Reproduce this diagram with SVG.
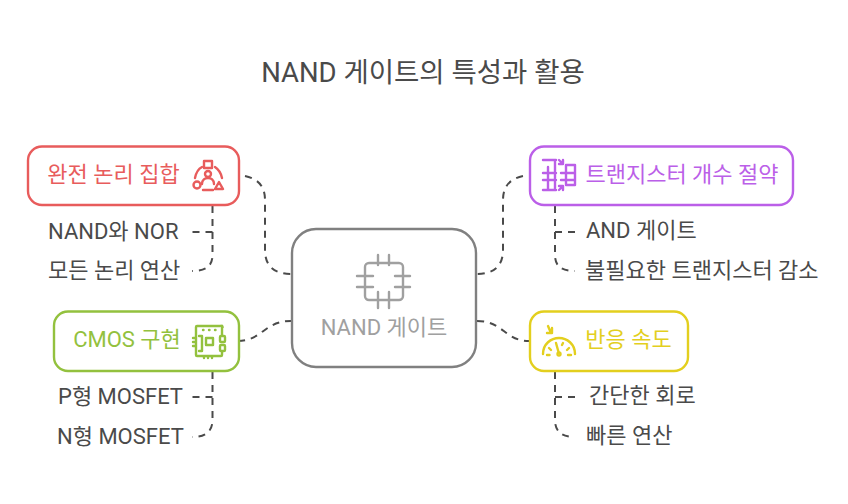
<svg xmlns="http://www.w3.org/2000/svg" width="848" height="504" viewBox="0 0 848 504">
<style>
text{font-family:"Roboto","Noto Sans CJK KR",sans-serif;font-size:22px;fill:#4a4a4a}
.box{fill:#fff;stroke-width:2.400}
.c{fill:none;stroke:#4a4a4a;stroke-width:2;stroke-dasharray:7 6}
.i{fill:none;stroke-width:2.400;stroke-linecap:round;stroke-linejoin:round}
</style>
<rect width="848" height="504" fill="#fff"/>
<text x="423" y="82" text-anchor="middle" style="font-size:27.500px" id="title">NAND 게이트의 특성과 활용</text>
<g id="connectors">
<path class="c" d="M245 176C258 179 265 186 265 200V250C265 266 274 274 291 274"/>
<path class="c" d="M212.500 206V255C212.500 266 206 271 192 271"/>
<path class="c" d="M212.500 232H192"/>
<path class="c" d="M238 341C262 341 264 321 291 321"/>
<path class="c" d="M212.500 372V420C212.500 431 206 437 192 437"/>
<path class="c" d="M212.500 397H192"/>
<path class="c" d="M523 176C510 179 503 186 503 200V250C503 266 494 274 477 274"/>
<path class="c" d="M555 206V255C555 266 561 271 575 271"/>
<path class="c" d="M555 232H575"/>
<path class="c" d="M477 321C503 321 505 341 529 341"/>
<path class="c" d="M555 372V420C555 431 561 437 575 437"/>
<path class="c" d="M555 397H575"/>
</g>
<g id="center">
<rect class="box" x="292" y="229" width="184" height="138" rx="24" stroke="#808080"/>
<g class="i" stroke="#a0a0a0" stroke-linecap="butt">
<rect x="365" y="263" width="38" height="37" rx="4"/>
<path d="M378 255V265M389 255V265M378 292V308M389 292V308M357 276H373M357 287H373M395 276H410M395 287H410"/>
</g>
<text x="384" y="335" text-anchor="middle" style="fill:#a0a0a0">NAND 게이트</text>
</g>
<g id="red">
<rect class="box" x="28" y="146.500" width="211" height="58.500" rx="14" stroke="#e85c5c"/>
<text x="113.500" y="182" text-anchor="middle" style="fill:#e85c5c">완전 논리 집합</text>
<g class="i" stroke="#e85c5c">
<rect x="204" y="161" width="8" height="7"/><circle cx="208" cy="174" r="3"/><path d="M202 184C202 176 214 176 214 184"/>
<circle cx="197" cy="185" r="3.500"/><path d="M215 189L219 182L223 189Z"/>
<path d="M195 178C196 173 198 169 202 167M215 167C218 169 221 173 222 178M203 190H213"/>
</g>
</g>
<text x="48" y="239">NAND와 NOR</text>
<text x="48" y="278">모든 논리 연산</text>
<g id="green">
<rect class="box" x="54" y="311.500" width="185" height="59.500" rx="14" stroke="#93c13e"/>
<text x="127" y="347" text-anchor="middle" style="fill:#93c13e">CMOS 구현</text>
<g class="i" stroke="#93c13e">
<path d="M222 335V328A1 1 0 0 0 221 326H197A1 1 0 0 0 196 327V355A1 1 0 0 0 197 356H221A1 1 0 0 0 222 355V352"/>
<rect x="220" y="336" width="5" height="6" rx="1"/><rect x="220" y="345" width="5" height="6" rx="1"/>
<path d="M199 336H202V351H199M206 338H213L213 345H206Z"/>
<path d="M193 338H195M193 342H195M193 346H195M204 357V358M208 357V358M212 357V358M203 330H203.500M209 330H209.500M215 330H215.500"/>
</g>
</g>
<text x="58" y="404">P형 MOSFET</text>
<text x="57" y="444">N형 MOSFET</text>
<g id="purple">
<rect class="box" x="530" y="146.500" width="263" height="58.500" rx="14" stroke="#bb5fe8"/>
<text x="682" y="182" text-anchor="middle" style="fill:#bb5fe8">트랜지스터 개수 절약</text>
<g class="i" stroke="#bb5fe8" stroke-linecap="butt">
<path d="M543 160H556M543 173H556M543 180H556M543 190H556M548 173V190M555 160V190M548 167V173"/>
<path d="M575 165H566V185H575M561 173H575M561 180H575M575 165V185"/>
<path d="M559 160L563 164M563 160V164H559M559 190L563 186M563 190V186H559"/>
</g>
</g>
<text x="586" y="238">AND 게이트</text>
<text x="585" y="278">불필요한 트랜지스터 감소</text>
<g id="yellow">
<rect class="box" x="530" y="311.500" width="158" height="59.500" rx="14" stroke="#e3cf1e"/>
<text x="628.500" y="347" text-anchor="middle" style="fill:#e3cf1e">반응 속도</text>
<g class="i" stroke="#e3cf1e">
<path d="M543 354C543 344 551 338 559 338C567 338 575 344 575 354"/>
<path d="M548 326L551 333M552 328V333H547M556 343L558.500 352"/><circle cx="559" cy="354" r="1.500"/>
<path d="M549 348L551 350M569 348L567 350M547 355H549.500M568 355H571M563 343L562 345"/>
</g>
</g>
<text x="589" y="403">간단한 회로</text>
<text x="586" y="443">빠른 연산</text>
</svg>
